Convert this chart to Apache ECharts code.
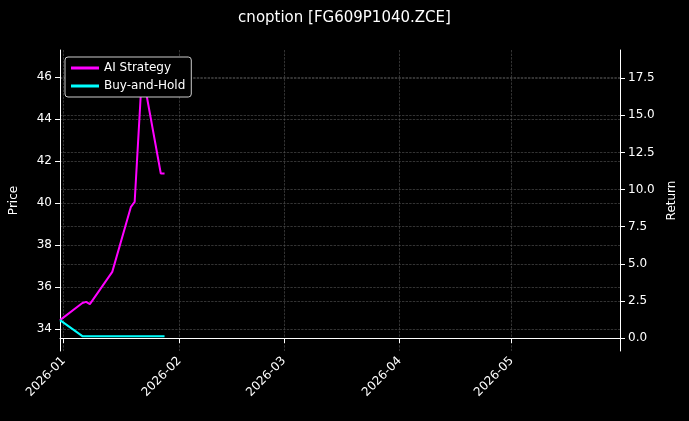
<!DOCTYPE html>
<html>
<head>
<meta charset="utf-8">
<script src="https://cdn.jsdelivr.net/npm/echarts@6/dist/echarts.min.js"></script>
<style>html,body{margin:0;background:#000;}#chart{width:689px;height:421px;}</style>
</head>
<body>
<div id="chart"></div>
<script>
var strategyDates = ['2025-12-31', '2026-01-06', '2026-01-07', '2026-01-08', '2026-01-14', '2026-01-19', '2026-01-20', '2026-01-22', '2026-01-27', '2026-01-28'];
var strategyReturn = [1.21, 2.36, 2.44, 2.29, 4.46, 8.84, 9.17, 18.0, 11.08, 11.08];
var holdDates = ['2025-12-31', '2026-01-06', '2026-01-28'];
var holdReturn = [1.21, 0.13, 0.13];
var priceTicks = [34, 36, 38, 40, 42, 44, 46];
var returnTicks = [0, 2.5, 5, 7.5, 10, 12.5, 15, 17.5];

function pairs(d, v) { return d.map(function (x, i) { return [x, v[i]]; }); }
var DAY = 24 * 3600 * 1000;

var chart = echarts.init(document.getElementById('chart'));
var grid = { type: 'dashed', color: '#555', width: 0.6 };
chart.setOption({
    backgroundColor: '#000',
    textStyle: { fontFamily: 'DejaVu Sans' },
    title: { text: 'cnoption [FG609P1040.ZCE]', left: 'center', top: 6,
        textStyle: { color: '#fff', fontSize: 15, fontWeight: 'normal' } },
    legend: {
        left: 65, top: 57, orient: 'vertical', itemGap: 6,
        borderColor: '#ccc', borderWidth: 1, borderRadius: 3, padding: [5, 6],
        backgroundColor: '#000', itemWidth: 28, itemHeight: 3,
        textStyle: { color: '#fff', fontSize: 12 },
        data: [{ name: 'AI Strategy', icon: 'rect' }, { name: 'Buy-and-Hold', icon: 'rect' }]
    },
    grid: { left: 58, right: 69, top: 50, bottom: 70 },
    xAxis: {
        type: 'time', min: '2025-12-31', max: '2026-05-30',
        minInterval: 28 * DAY, maxInterval: 31 * DAY,
        axisLine: { lineStyle: { color: '#fff' } },
        axisTick: { lineStyle: { color: '#fff' } },
        axisLabel: { rotate: 45, color: '#fff', fontSize: 12, hideOverlap: false,
            formatter: function (v) { var d = new Date(v); return d.getFullYear() + '-' + String(d.getMonth() + 1).padStart(2, '0'); } },
        splitLine: { show: true, lineStyle: grid }
    },
    yAxis: [{
        type: 'value', min: 32.95, max: 47.29, name: 'Price', nameLocation: 'middle', nameGap: 40,
        nameTextStyle: { color: '#fff', fontSize: 12 },
        axisLine: { show: true, lineStyle: { color: '#fff' } },
        axisTick: { show: true, customValues: priceTicks, lineStyle: { color: '#fff' } },
        axisLabel: { customValues: priceTicks, color: '#fff', fontSize: 12 },
        splitLine: { show: true, lineStyle: grid }
    }, {
        type: 'value', min: -0.87, max: 19.4, name: 'Return', nameLocation: 'middle', nameGap: 42,
        nameTextStyle: { color: '#fff', fontSize: 12 },
        axisLine: { show: true, lineStyle: { color: '#fff' } },
        axisTick: { show: true, customValues: returnTicks, lineStyle: { color: '#fff' } },
        axisLabel: { customValues: returnTicks, color: '#fff', fontSize: 12,
            formatter: function (v) { return v.toFixed(1); } },
        splitLine: { show: true, lineStyle: grid }
    }],
    series: [{
        name: 'AI Strategy', type: 'line', yAxisIndex: 1, showSymbol: false,
        data: pairs(strategyDates, strategyReturn),
        lineStyle: { color: '#ff00ff', width: 2 }, itemStyle: { color: '#ff00ff' }
    }, {
        name: 'Buy-and-Hold', type: 'line', yAxisIndex: 1, showSymbol: false,
        data: pairs(holdDates, holdReturn),
        lineStyle: { color: '#00ffff', width: 2 }, itemStyle: { color: '#00ffff' }
    }]
});
</script>
</body>
</html>
